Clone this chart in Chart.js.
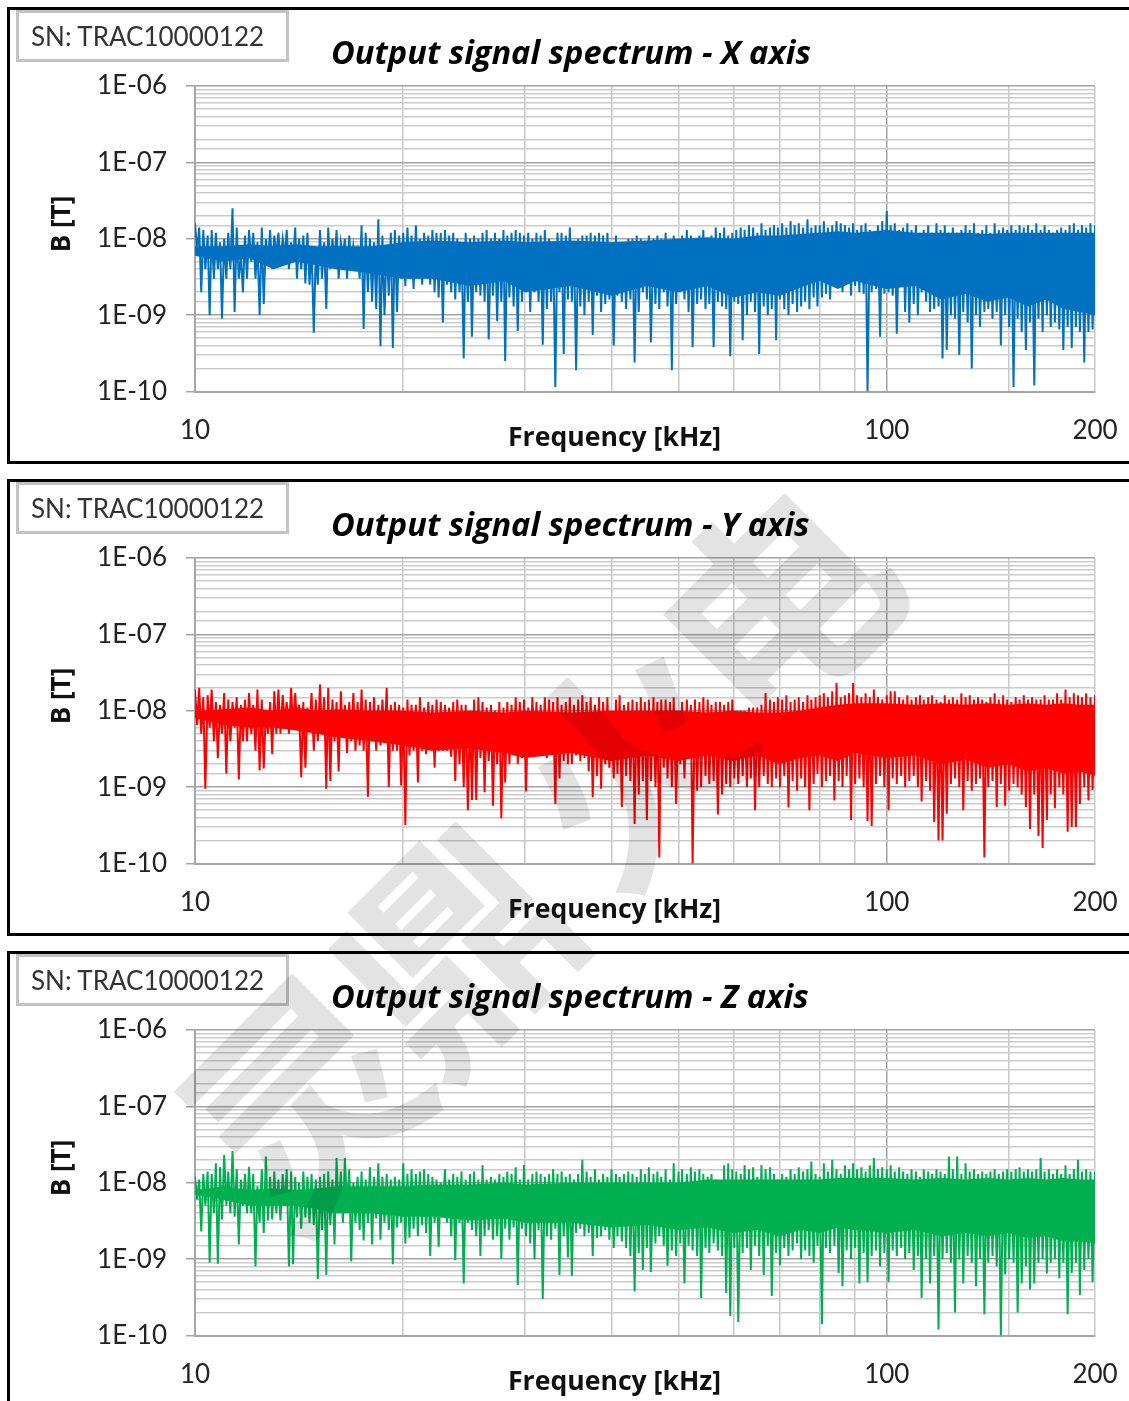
<!DOCTYPE html>
<html>
<head>
<meta charset="utf-8">
<title>Output signal spectrum</title>
<script src="https://cdn.jsdelivr.net/npm/chart.js@4/dist/chart.umd.min.js"></script>
<style>
    html, body { margin: 0; padding: 0; background: #fff; }
    #page { position: relative; width: 1129px; height: 1401px; overflow: hidden; }
    .frame { position: absolute; left: 7px; width: 1140px; height: 451px; border: 3px solid #000; }
    canvas { position: absolute; left: 0; }
    .sn { position: absolute; left: 16px; width: 267px; height: 46px; border: 3px solid #c3c3c3;
          font: 26px Lato, sans-serif; line-height: 46px; color: #333; text-indent: 12px; box-sizing: content-box; }
    .title { position: absolute; left: 331px; font: italic bold 32.6px "Open Sans", sans-serif; color: #000; white-space: pre; }
    .xlabel { position: absolute; left: 508px; font: bold 26.6px "Open Sans", sans-serif; color: #111; white-space: pre; }
    .ylabel { position: absolute; left: 20px; width: 80px; text-align: center; font: bold 26px "Open Sans", sans-serif; color: #111;
              transform: rotate(-90deg); white-space: pre; }
    #watermark span { position: absolute; font: bold 225px "Noto Sans CJK SC", sans-serif; color: rgba(0, 0, 0, 0.11);
                      transform: translate(-50%, -50%) rotate(-45deg); line-height: 1; }
</style>
</head>
<body>
<div id="page"><div id="watermark"></div></div>
<script>
// Frequency bins [kHz]
const freqKHz = [
    10.00,10.07,10.14,10.21,10.28,10.35,10.43,10.50,10.57,10.65,10.72,10.79,10.87,10.94,11.02,11.10,11.17,11.25,11.33,11.41,
    11.49,11.57,11.65,11.73,11.81,11.89,11.97,12.06,12.14,12.23,12.31,12.40,12.49,12.57,12.66,12.75,12.84,12.93,13.02,13.11,
    13.20,13.29,13.39,13.48,13.57,13.67,13.77,13.86,13.96,14.04,14.14,14.24,14.34,14.44,14.54,14.64,14.74,14.85,14.95,15.05,
    15.16,15.26,15.37,15.48,15.58,15.69,15.80,15.91,16.02,16.13,16.25,16.36,16.47,16.59,16.71,16.82,16.94,17.06,17.18,17.30,
    17.41,17.53,17.65,17.78,17.90,18.03,18.15,18.28,18.41,18.54,18.66,18.79,18.93,19.06,19.19,19.32,19.45,19.59,19.73,19.86,
    20.00,20.14,20.28,20.42,20.56,20.70,20.86,21.00,21.14,21.30,21.44,21.58,21.74,21.88,22.04,22.20,22.34,22.50,22.66,22.82,
    22.98,23.14,23.30,23.46,23.62,23.78,23.94,24.12,24.28,24.46,24.62,24.80,24.98,25.14,25.32,25.50,25.68,25.86,26.04,26.22,
    26.40,26.58,26.78,26.96,27.14,27.34,27.54,27.72,27.92,28.08,28.28,28.48,28.68,28.88,29.08,29.28,29.48,29.70,29.90,30.10,
    30.32,30.52,30.74,30.96,31.16,31.38,31.60,31.82,32.04,32.26,32.50,32.72,32.94,33.18,33.42,33.64,33.88,34.12,34.36,34.60,
    34.82,35.06,35.30,35.56,35.80,36.06,36.30,36.56,36.82,37.08,37.32,37.58,37.86,38.12,38.38,38.64,38.90,39.18,39.46,39.72,
    40.0,40.3,40.6,40.8,41.1,41.4,41.7,42.0,42.3,42.6,42.9,43.2,43.5,43.8,44.1,44.4,44.7,45.0,45.3,45.6,
    46.0,46.3,46.6,46.9,47.2,47.6,47.9,48.2,48.6,48.9,49.2,49.6,50.0,50.3,50.6,51.0,51.4,51.7,52.1,52.4,
    52.8,53.2,53.6,53.9,54.3,54.7,55.1,55.4,55.8,56.2,56.6,57.0,57.4,57.8,58.2,58.6,59.0,59.4,59.8,60.2,
    60.6,61.0,61.5,61.9,62.3,62.8,63.2,63.6,64.1,64.5,65.0,65.4,65.9,66.4,66.8,67.3,67.8,68.2,68.7,69.2,
    69.6,70.1,70.6,71.1,71.6,72.1,72.6,73.1,73.6,74.2,74.6,75.2,75.7,76.2,76.8,77.3,77.8,78.4,78.9,79.4,
    80.0,80.6,81.1,81.7,82.2,82.8,83.4,84.0,84.6,85.2,85.8,86.3,87.0,87.5,88.2,88.8,89.4,90.0,90.6,91.3,
    91.9,92.6,93.2,93.8,94.5,95.1,95.8,96.5,97.1,97.8,98.5,99.2,100,100.6,101.3,102,102.7,103.4,104.2,104.9,
    105.6,106.3,107.1,107.8,108.6,109.4,110.2,110.9,111.7,112.3,113.1,114,114.8,115.5,116.3,117.1,118,118.8,119.6,120.4,
    121.3,122.1,123,123.8,124.6,125.5,126.4,127.3,128.2,129,130,130.9,131.8,132.7,133.7,134.6,135.5,136.4,137.4,138.4,
    139.3,140.2,141.2,142.2,143.2,144.2,145.2,146.2,147.3,148.3,149.3,150.3,151.4,152.5,153.6,154.6,155.6,156.7,157.8,158.9,
    160,161.1,162.2,163.4,164.5,165.7,166.9,168,169.1,170.4,171.5,172.6,173.9,175,176.3,177.6,178.7,180,181.3,182.6,
    183.8,185.1,186.4,187.7,189,190.2,191.5,193,194.2,195.7,197,198.4,200
];

// Spectrum values [nT]
const xAxisNT = [
    16,7,14,2,13,4,11,1.0,13,3,12,4,9,0.9,10,3,12,4,25,1.1,
    14,3,6,2,11,3,13,5,12,3,9,1.0,14,1.4,10,5,13,4,11,6,
    12,5,10,6,13,4,9,5,14,3,10,4,11,2.6,12,2.5,8,0.59,7,2.5,
    13,3,9,1.2,14,4,10,5,13,3,9,6,10,3,11,4,8,5,7,3,
    15,0.66,12,2,10,1.5,9,1.2,18,0.39,11,1.0,8,1.8,12,0.37,13,1.1,11,3,
    12,2.4,14,3,11,2.2,15,3,10,2.5,12,4,11,2.5,13,2,12,1.7,12,0.8,
    13,2.5,11,2,12,1.6,10,2,9,0.27,12,1.5,10,0.52,11,2,10,1.8,12,1.5,
    13,0.48,10,1.8,12,0.83,10,1.5,13,0.25,11,1.7,12,1.3,13,0.62,12,1.5,11,2,
    12,1.1,10,2,12,1.5,11,0.41,13,1.2,10,1.5,9,0.115,12,2,12,0.31,11,1.6,
    14,1.5,9,0.19,10,1.3,11,1.0,11,1.5,12,0.55,11,1.8,12,1.1,11,1.4,12,1.6,
    9,0.4,11,1.8,9,1.5,8,1.2,10,1.6,10,0.24,11,1.1,10,2,9,1.6,11,0.44,
    10,1.4,11,1.2,10,2,12,1.3,9,0.19,11,1.4,10,2,11,1.6,13,1.1,11,0.38,
    10,1.4,11,1.6,13,1.2,10,1.4,11,0.38,14,1.5,12,1.3,14,1.2,11,0.29,12,1.5,
    13,1.4,14,0.47,13,1.0,15,1.5,14,1.1,12,0.31,16,1.3,13,1.0,14,1.2,15,0.47,
    14,1.6,16,1.2,14,1.0,17,1.4,15,1.1,16,1.3,14,1.5,18,1.2,14,1.7,15,1.3,
    15,1.7,17,1.9,14,1.6,15,2.8,17,2.5,16,2,15,3,14,1.8,16,2.4,13,2,
    15,1.9,16,0.1,13,2,11,2.2,15,0.52,17,1.9,23,2,15,1.8,16,0.57,13,2.6,
    14,1.1,16,0.8,13,1.4,15,1.0,12,2,13,1.5,15,1.1,12,1.2,16,1.3,13,0.27,
    15,0.35,12,1.0,14,0.9,12,0.3,13,1.1,15,0.8,13,0.2,16,1.0,12,0.7,13,1.1,
    15,1.2,12,0.9,16,1.1,13,0.4,14,1.0,13,0.7,15,0.115,13,0.9,15,0.6,14,0.35,
    15,0.8,13,0.12,16,0.9,13,0.6,15,1.0,13,0.7,12,0.8,13,0.65,14,0.35,13,0.7,
    15,0.37,16,0.7,13,0.6,15,0.24,14,0.6,16,0.65,15
];
const yAxisNT = [
    19,6.5,20,5,15,0.95,16,6,19,4,13,2.4,12,5,17,1.5,14,4,13,6,
    15,1.26,12,4,14,4,17,5,12,3,19,1.65,14,1.75,10,5,13,2.7,18,5,
    19,5,16,7,13,5,20,6,17,7,12,1.35,13,1.8,11,6,17,3,14,4,
    22,5,15,0.95,20,1.2,14,4,13,1.6,18,5,12,2.8,13,4,17,3,13,3.5,
    19,3,14,0.75,13,4,15,3,12,3.5,14,4,20,1.0,12,3,13,3,12,1.05,
    11,0.32,14,2.6,12,3,12,1.15,15,3,11,2.7,13,4,12,1.8,14,3,13,3,
    12,3,11,2.5,13,1.2,14,2,12,1,12,0.5,10,0.68,14,0.68,15,2.4,13,0.86,
    11,2.2,12,0.57,10,2,13,0.39,11,1.15,13,2,12,2.6,15,2,13,2.4,14,0.88,
    11,2.5,15,3,13,2.6,12,3,15,2.4,14,2.8,13,0.6,15,1.3,12,2.2,13,2,
    15,2,12,2.6,14,2.2,16,2.4,13,1.6,15,0.74,12,1.4,15,0.95,13,2,15,1.8,
    10,1.3,14,1.5,16,0.55,12,1.4,13,1.2,14,0.33,13,0.8,15,1.2,13,0.37,14,1.2,
    15,1.0,13,0.12,14,1.8,14,1.3,13,1.0,15,0.6,10,2,13,1.3,14,2.5,12,0.1,
    14,0.9,13,1,15,1.4,14,1.1,12,1.2,13,0.44,13,0.8,12,1.1,13,1.0,14,1.3,
    10,1.1,10,1.4,10,1.0,11,1.3,11,0.5,11,1.0,12,1.4,17,1.1,14,1.0,13,1.3,
    15,1.0,14,1.4,16,0.54,13,1.2,14,0.9,15,1.3,13,1.0,16,0.5,14,1.1,15,1.5,
    16,1.0,17,1.2,15,1.4,18,0.67,23,1.2,15,1.0,16,1.4,17,0.37,23,1.1,16,1.3,
    15,1.0,17,0.36,15,0.31,19,1.1,15,1.4,14,1.0,16,0.5,18,1.3,18,1.1,15,1.4,
    14,1.0,16,1.2,14,1.4,15,1,16,0.65,14,1.2,15,0.9,16,0.35,14,0.2,13,0.2,
    16,0.45,14,1.1,15,1.3,14,1.0,17,0.5,15,1.2,16,0.9,14,1.1,15,1.3,14,0.12,
    13,1.0,15,1.2,17,0.55,14,1.1,16,0.57,14,0.9,13,1.1,15,1.0,14,0.8,16,0.55,
    14,0.28,15,0.8,14,0.23,14,0.16,16,0.37,14,0.8,14,0.53,17,1.0,14,0.8,19,0.26,
    15,0.3,17,0.3,16,0.6,15,1.0,17,0.67,15,0.92,16
];
const zAxisNT = [
    12,6,11,2.3,13,5,14,0.9,13,4,18,0.87,16,3.3,23,5,14,4,26,3.6,
    15,1.55,11,5,13,4,16,4,13,0.8,9,3,15,2.2,22,3.2,12,3.3,14,4,
    11,3.2,13,5,15,0.8,14,0.86,12,3.5,10,2.5,14,3.5,12,3,13,2.8,11,0.55,
    12,2.4,13,0.62,14,2.8,11,1.55,21,4,14,3,21,5,15,0.93,10,3,12,2.4,
    14,1.75,11,3,16,1.55,12,3.4,18,1.8,12,3,13,2.4,11,0.86,12,2.6,11,3,
    18,1.6,13,1.9,15,2.5,13,2,14,2.8,15,2.2,13,1.1,12,3,11,1.45,10,4,
    15,3,11,2,13,0.97,12,3,14,0.48,11,3,13,2.4,14,2,11,1.1,17,2,
    11,2.4,12,1.8,11,2,13,1,12,2.5,14,1.8,13,2.6,16,0.46,11,2.5,17,2,
    11,1.6,13,1,14,2.4,13,0.3,12,2,13,1.8,15,2.5,13,0.62,14,2,12,1.05,
    13,0.6,11,2.2,13,2.5,20,2,14,2.2,12,1.1,15,1.9,11,2,13,2.4,12,1.8,
    15,1.4,13,2,12,1.7,13,1.4,14,1.1,13,0.38,12,1.2,15,0.72,13,1.4,16,0.68,
    13,1.6,14,2,12,1.5,15,0.82,11,1.3,18,1.1,14,1.6,15,0.48,13,1.5,16,1.3,
    14,1.1,15,0.31,13,1.4,12,1.2,13,1.6,11,1.3,10,1.1,17,0.36,18,0.18,15,1.4,
    14,0.15,13,1.2,17,1.4,15,0.72,16,1.5,12,1.1,17,0.62,15,1.5,16,0.33,13,1.2,
    11,0.83,13,1.4,12,1.1,15,1.3,13,1.6,16,1.0,14,1.3,15,1.1,19,0.9,13,1.5,
    12,0.14,18,1.4,14,1.2,20,1.5,15,0.66,13,0.44,17,1.3,15,1.0,18,1.4,15,0.48,
    16,1.2,14,0.5,17,1.1,21,1.3,15,0.8,16,1.2,15,0.5,17,1.3,14,1.1,16,1.4,
    14,1.0,13,1.2,15,0.72,14,1.1,12,0.31,15,1.0,14,0.48,13,1.1,15,0.12,14,1.0,
    13,1.2,22,0.9,15,0.2,22,1.0,13,0.48,18,1.1,14,0.9,15,0.44,13,1.0,14,0.19,
    13,0.9,14,1.1,15,0.8,13,0.1,14,0.63,15,1.0,14,0.9,15,0.2,16,0.48,14,0.8,
    15,0.4,14,0.48,15,0.9,21,1.0,14,0.65,15,0.9,13,1.0,15,0.56,13,0.9,17,0.19,
    13,0.66,15,0.9,20,0.34,14,0.72,15,1.0,14,0.5,14
];

// Solid core of each trace, where the bins run together [nT]
const bandFreqKHz = [10,11,12,13,14,15,16,18,20,22,25,28,30,35,40,45,50,55,60,65,70,75,80,85,90,100,110,120,130,140,150,160,170,180,190,200];
const xBandTop = [8,8,8.5,8,8.5,8,8,8,9,9.5,9,9.5,9,9.5,9,9.5,10,10.5,10,11,11,11.5,12,12.5,12,13,12,12,12,11.5,12,12,12,12,12,12];
const xBandBottom = [6,5,5.5,4,5,4.5,4,3.5,3,3,2.4,2.8,2,2.4,1.8,2.4,2,2.4,1.7,2,1.8,2.3,2.8,2.2,2.8,2.2,2.4,1.6,1.9,1.5,1.7,1.3,1.6,1.2,1.1,1.0];
const yBandTop = [10,10.5,11,10,11,10,10.5,10,10,9.5,10,9.5,10,9.5,10,10,10,9.5,10,9.5,9.5,10,11,12,12.5,12.5,12,12.5,12,12.5,12,12.5,12,12.5,12,12];
const yBandBottom = [8,6.5,6,6,5.5,5,4.5,4,3.5,3,3.2,2.8,2.4,2.8,2.2,2.6,2.2,2.6,2.2,2.6,2,2.4,2.6,2.2,2.8,2.4,2.6,2.0,2.3,1.8,2.0,1.6,1.8,1.5,1.6,1.4];
const zBandTop = [8,9,8,8.5,8,8.5,9,9,9,9.5,9.5,10,9.5,10,10,10,10,11,11,11,11,11,11,11.5,11.5,11.5,11,11.5,11,11.5,11,11.5,11,11.5,11,11];
const zBandBottom = [7,6,5,5,5,4.5,4,4,3.6,3.6,3.2,3.4,3,3,2.6,2.8,2.4,2.6,2.2,2.4,2,2.4,2.2,2.6,2.4,2.2,2.4,2,2.2,2,2.2,1.9,2,1.7,1.7,1.6];

// Axis labels
const xTickValues = [10, 100, 200];
const yTickLabels = ['1E-10', '1E-09', '1E-08', '1E-07', '1E-06'];
const serialNumber = 'SN: TRAC10000122';
const panelNames = ['X', 'Y', 'Z'];
const panelColors = ['#0070c0', '#ff0000', '#00b050'];
const panelSeries = [xAxisNT, yAxisNT, zAxisNT];
const panelBandTop = [xBandTop, yBandTop, zBandTop];
const panelBandBottom = [xBandBottom, yBandBottom, zBandBottom];
const watermarkGlyphs = ['灵', '鼎', '火', '电'];

const TICK_FONT = { family: 'Lato, sans-serif', size: 26 };
const PANEL_STEP = 472;

/**
 * True for 1E-n style round decades
 */
function isDecade(value) {
    const exponent = Math.round(Math.log10(value));
    return Math.abs(value / Math.pow(10, exponent) - 1) < 1e-6;
}

/**
 * Small helper for the text boxes around each chart
 */
function addText(page, className, text, top) {
    const div = document.createElement('div');
    div.className = className;
    div.textContent = text;
    div.style.top = `${top}px`;
    page.appendChild(div);
}

/**
 * Frame, labels and chart of one axis panel
 */
function buildPanel(page, index) {
    const offset = index * PANEL_STEP;

    const frame = document.createElement('div');
    frame.className = 'frame';
    frame.style.top = `${offset + 7}px`;
    page.appendChild(frame);

    const canvas = document.createElement('canvas');
    canvas.width = 1129;
    canvas.height = 470;
    canvas.style.top = `${offset}px`;
    page.appendChild(canvas);

    addText(page, 'sn', serialNumber, offset + 10);
    addText(page, 'title', `Output signal spectrum - ${panelNames[index]} axis`, offset + 29);
    addText(page, 'xlabel', 'Frequency [kHz]', offset + 418);
    addText(page, 'ylabel', 'B [T]', offset + 206);

    const color = panelColors[index];
    const points = freqKHz.map((f, i) => ({ x: f, y: panelSeries[index][i] * 1e-9 }));
    const bandTop = bandFreqKHz.map((f, i) => ({ x: f, y: panelBandTop[index][i] * 1e-9 }));
    const bandBottom = bandFreqKHz.map((f, i) => ({ x: f, y: panelBandBottom[index][i] * 1e-9 }));

    new Chart(canvas.getContext('2d'), {
        type: 'line',
        data: {
            datasets: [
                {
                    label: `${panelNames[index]} axis`,
                    data: points,
                    borderColor: color,
                    borderWidth: 2,
                    pointRadius: 0,
                    tension: 0,
                    fill: false
                },
                { label: 'core top', data: bandTop, borderWidth: 0, pointRadius: 0, tension: 0, fill: false },
                {
                    label: 'core bottom',
                    data: bandBottom,
                    borderWidth: 0,
                    pointRadius: 0,
                    tension: 0,
                    backgroundColor: color,
                    fill: '-1'
                }
            ]
        },
        options: {
            responsive: false,
            animation: false,
            devicePixelRatio: 1,
            layout: { padding: { top: 86, right: 34, left: 0, bottom: 0 } },
            plugins: { legend: { display: false }, tooltip: { enabled: false } },
            scales: {
                x: {
                    type: 'logarithmic',
                    min: 10,
                    max: 200,
                    afterFit: scale => {
                        scale.height = 78.5;
                        scale.paddingLeft = 0;
                        scale.paddingRight = 0;
                    },
                    border: { color: '#a6a6a6', width: 2 },
                    grid: {
                        drawTicks: false,
                        lineWidth: 1.5,
                        color: ctx => (ctx.tick.value === 10 || ctx.tick.value === 100 ? '#a3a3a3' : '#c8c8c8')
                    },
                    ticks: {
                        autoSkip: false,
                        maxRotation: 0,
                        padding: 24,
                        color: '#222',
                        font: TICK_FONT,
                        callback: value => (xTickValues.includes(value) ? String(value) : '')
                    }
                },
                y: {
                    type: 'logarithmic',
                    min: 1e-10,
                    max: 1e-6,
                    afterFit: scale => { scale.width = 195; },
                    border: { color: '#a6a6a6', width: 2 },
                    grid: {
                        tickLength: 9,
                        lineWidth: 1.5,
                        color: ctx => (isDecade(ctx.tick.value) ? '#a3a3a3' : '#cbcbcb'),
                        tickColor: ctx => (isDecade(ctx.tick.value) ? '#a3a3a3' : 'rgba(0,0,0,0)')
                    },
                    ticks: {
                        autoSkip: false,
                        padding: 19,
                        color: '#222',
                        font: TICK_FONT,
                        callback: value => {
                            if (!isDecade(value)) return '';
                            return yTickLabels[Math.round(Math.log10(value)) + 10];
                        }
                    }
                }
            }
        }
    });
}

/**
 * Grey diagonal stamp over the page
 */
function addWatermark() {
    const centers = [[296, 1092], [445, 938], [622, 752], [768, 596]];
    const holder = document.getElementById('watermark');
    watermarkGlyphs.forEach((glyph, i) => {
        const span = document.createElement('span');
        span.textContent = glyph;
        span.style.left = `${centers[i][0]}px`;
        span.style.top = `${centers[i][1]}px`;
        holder.appendChild(span);
    });
}

const page = document.getElementById('page');
panelNames.forEach((_, i) => buildPanel(page, i));
// Stamp goes last so it sits on top of the traces
page.appendChild(document.getElementById('watermark'));
addWatermark();
</script>
</body>
</html>
